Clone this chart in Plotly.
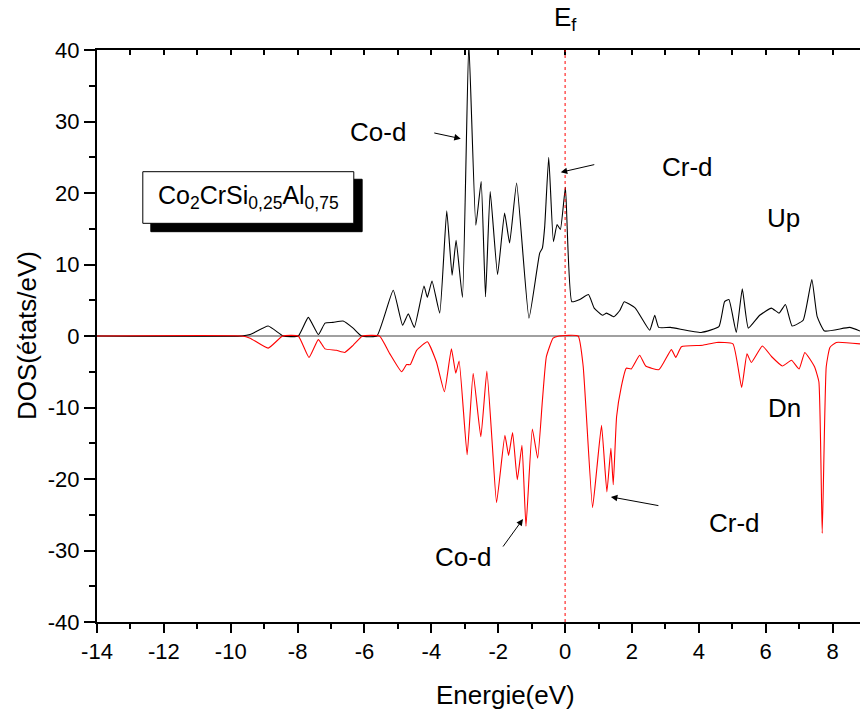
import plotly.graph_objects as go

# ---------------- data ----------------
energy_up = [-14, -9.67, -9.42, -8.88, -8.43, -7.98, -7.68, -7.38, -7.18, -6.94, -6.64, -6.34, -6.09,
             -5.63, -5.14, -4.86, -4.69, -4.51, -4.22, -4.12, -3.98, -3.75, -3.54, -3.38, -3.26, -3.07,
             -2.88, -2.67, -2.51, -2.38, -2.24, -2.02, -1.81, -1.66, -1.45, -1.08, -0.76, -0.68, -0.61,
             -0.49, -0.35, -0.24, -0.14, 0.01, 0.20, 0.44, 0.70, 0.87, 1.12, 1.24, 1.46, 1.64, 1.77,
             2.10, 2.53, 2.68, 2.80, 3.15, 4.07, 4.60, 4.77, 4.90, 5.12, 5.30, 5.48, 5.82, 6.17, 6.40,
             6.59, 6.79, 7.12, 7.38, 7.54, 7.76, 8.51, 8.82]
dos_up = [0, 0, 0.2, 1.4, 0, 0, 2.6, 0.2, 1.8, 1.9, 2.1, 1.1, 0,
          0, 6.4, 1.5, 3.1, 1.2, 7.0, 5.4, 7.7, 3.2, 17.5, 8.5, 13.4, 5.4,
          41, 15.5, 21.6, 5.5, 20.2, 8.6, 17.2, 13.0, 21.4, 2.5, 11.6, 12.3, 15.3,
          25.0, 13.2, 15.6, 14.9, 20.8, 4.8, 5.1, 5.8, 3.9, 2.9, 3.2, 2.7, 3.6, 4.8,
          3.9, 0.8, 2.9, 1.2, 1.2, 0.5, 1.3, 4.8, 5.1, 0.5, 6.6, 1.1, 2.9, 3.9, 3.2,
          4.4, 1.4, 2.2, 7.9, 2.7, 0.7, 1.2, 0.7]

energy_dn = [-14, -9.67, -9.42, -8.88, -8.45, -7.98, -7.66, -7.38, -7.18, -6.84, -6.59, -6.34, -6.06,
             -5.55, -5.24, -4.89, -4.74, -4.63, -4.44, -4.12, -3.85, -3.61, -3.40, -3.27, -3.17, -2.93,
             -2.75, -2.52, -2.34, -2.18, -2.05, -1.80, -1.69, -1.57, -1.43, -1.29, -1.17, -0.98, -0.82,
             -0.68, -0.56, -0.36, -0.18, 0.39, 0.54, 0.82, 0.95, 1.09, 1.25, 1.37, 1.44, 1.54, 1.68,
             1.83, 1.98, 2.23, 2.41, 2.81, 3.18, 3.31, 3.48, 4.12, 4.52, 5.02, 5.28, 5.44, 5.57, 5.90,
             6.18, 6.50, 6.77, 7.00, 7.17, 7.46, 7.59, 7.69, 7.81, 7.92, 8.11, 8.82]
dos_dn = [0, 0, -0.3, -1.7, 0, 0, -3.0, -0.5, -1.8, -2.0, -2.3, -1.3, 0,
          0, -2.5, -5.0, -4.0, -4.0, -2.0, -0.8, -3.6, -7.8, -1.8, -5.2, -3.5, -16.6,
          -5.2, -14.1, -4.9, -15.0, -23.3, -13.9, -16.7, -13.5, -20.1, -15.3, -26.6, -13.0, -17.1,
          -9.1, -2.9, -0.3, 0, 0, -4.2, -24.0, -18.5, -12.5, -21.8, -15.7, -20.8, -11.3, -7.1,
          -4.5, -4.6, -2.7, -4.2, -4.7, -1.9, -3.0, -1.5, -1.3, -0.9, -1.1, -7.2, -2.5, -3.7, -1.4,
          -2.9, -4.2, -3.4, -4.6, -2.3, -4.3, -6.4, -27.6, -4.3, -1.6, -0.9, -1.1]

x_ticks = [-14, -12, -10, -8, -6, -4, -2, 0, 2, 4, 6, 8]
y_ticks = [-40, -30, -20, -10, 0, 10, 20, 30, 40]
x_range = [-14, 8.82]
y_range = [-40, 40]

FONT = "Liberation Sans, Arial, sans-serif"

fig = go.Figure()

fig.add_trace(go.Scatter(x=energy_up, y=dos_up, mode="lines",
                         line=dict(color="black", width=1.1, shape="spline", smoothing=0.4),
                         showlegend=False))
fig.add_trace(go.Scatter(x=energy_dn, y=dos_dn, mode="lines",
                         line=dict(color="red", width=1.1, shape="spline", smoothing=0.4),
                         showlegend=False))
# dummy trace for the top mirrored axis
fig.add_trace(go.Scatter(x=[None], y=[None], xaxis="x2", showlegend=False, hoverinfo="skip"))

shapes = [
    dict(type="line", xref="paper", yref="y", x0=0, x1=1, y0=0, y1=0,
         line=dict(color="#808080", width=1.5), layer="below"),
    dict(type="line", xref="x", yref="paper", x0=0, x1=0, y0=0, y1=1,
         line=dict(color="red", width=1, dash="dot"), layer="above"),
    dict(type="rect", xref="x", yref="y", x0=-12.39, x1=-6.07, y0=14.59, y1=21.92,
         fillcolor="black", line=dict(color="black", width=1), layer="above"),
    dict(type="rect", xref="x", yref="y", x0=-12.63, x1=-6.32, y0=15.76, y1=22.98,
         fillcolor="white", line=dict(color="black", width=1), layer="above"),
]

txt = dict(family=FONT, size=26, color="black")
C = dict(xanchor="center", yanchor="middle", showarrow=False)
annotations = [
    dict(x=-9.47, y=19.4, xref="x", yref="y", **C,
         text="Co<sub>2</sub>CrSi<sub>0,25</sub>Al<sub>0,75</sub>", font=dict(family=FONT, size=25, color="black")),
    dict(x=-5.60, y=28.5, xref="x", yref="y", **C, text="Co-d", font=txt),
    dict(x=3.67, y=23.6, xref="x", yref="y", **C, text="Cr-d", font=txt),
    dict(x=6.54, y=16.5, xref="x", yref="y", **C, text="Up", font=txt),
    dict(x=6.57, y=-10.1, xref="x", yref="y", **C, text="Dn", font=txt),
    dict(x=5.07, y=-26.2, xref="x", yref="y", **C, text="Cr-d", font=txt),
    dict(x=-3.06, y=-30.9, xref="x", yref="y", **C, text="Co-d", font=txt),
    dict(x=-3.12, y=27.6, xref="x", yref="y", ax=-28, ay=-6, text="", showarrow=True,
         arrowhead=2, arrowsize=1.3, arrowwidth=1, arrowcolor="black"),
    dict(x=-0.13, y=22.9, xref="x", yref="y", ax=35, ay=-8, text="", showarrow=True,
         arrowhead=2, arrowsize=1.3, arrowwidth=1, arrowcolor="black"),
    dict(x=1.37, y=-22.5, xref="x", yref="y", ax=49, ay=9, text="", showarrow=True,
         arrowhead=2, arrowsize=1.3, arrowwidth=1, arrowcolor="black"),
    dict(x=-1.26, y=-25.6, xref="x", yref="y", ax=-21, ay=29, text="", showarrow=True,
         arrowhead=2, arrowsize=1.3, arrowwidth=1, arrowcolor="black"),
    dict(x=-0.0917, y=0.5, xref="paper", yref="paper", **C, textangle=-90,
         text="DOS(états/eV)", font=txt),
    dict(x=0.536, y=-0.1276, xref="paper", yref="paper", **C,
         text="Energie(eV)", font=txt),
    dict(x=0, y=1.055, xref="x", yref="paper", **C,
         text="E<sub>f</sub>", font=txt),
]

fig.update_layout(
    width=860, height=723,
    margin=dict(l=97, r=0, t=50, b=101),
    paper_bgcolor="white", plot_bgcolor="white",
    font=dict(family=FONT, color="black"),
    shapes=shapes, annotations=annotations,
    xaxis=dict(range=x_range, tickvals=x_ticks, ticktext=[str(v) for v in x_ticks],
               showline=True, linecolor="black", linewidth=2,
               ticks="outside", ticklen=9, tickwidth=2, tickcolor="black",
               minor=dict(dtick=1, tick0=-14, ticks="outside", ticklen=5, tickwidth=2, tickcolor="black"),
               showgrid=False, zeroline=False, tickfont=dict(family=FONT, size=22)),
    xaxis2=dict(range=x_range, overlaying="x", side="top", showticklabels=False,
                showline=True, linecolor="black", linewidth=2,
                ticks="inside", tickvals=list(range(-14, 9)), ticklen=5, tickwidth=1.5, tickcolor="black",
                showgrid=False, zeroline=False),
    yaxis=dict(range=y_range, tickvals=y_ticks, ticktext=[str(v) for v in y_ticks],
               showline=True, linecolor="black", linewidth=2,
               ticks="outside", ticklen=11, tickwidth=2, tickcolor="black",
               minor=dict(dtick=5, tick0=0, ticks="outside", ticklen=6, tickwidth=2, tickcolor="black"),
               showgrid=False, zeroline=False, tickfont=dict(family=FONT, size=22)),
)

fig.write_html("out.html")
